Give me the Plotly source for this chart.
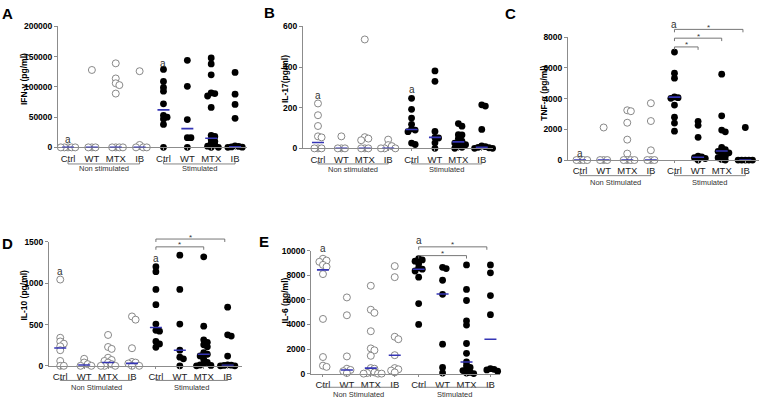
import plotly.graph_objects as go

W, H = 759, 403
FONT = "Liberation Sans"

categories = ["Ctrl", "WT", "MTX", "IB", "Ctrl", "WT", "MTX", "IB"]

# ---------------- Panel A : IFN-gamma (pg/ml) ----------------
ifng_nonstim = [
    [0, 0, 0, 0, 0],
    [128000, 0, 0, 0],
    [139000, 114000, 106000, 103000, 89000, 0, 0, 0, 0],
    [126000, 4000, 0, 0, 0],
]
ifng_stim = [
    [129000, 109000, 99000, 93000, 72000, 53000, 50000, 47000, 38000, 0],
    [144000, 101000, 46000, 16000, 16000, 0],
    [148000, 138000, 120000, 90000, 89000, 85000, 66000, 20000, 18000, 13000,
     10000, 7000, 4000, 2000, 0, 0],
    [124000, 88000, 71000, 48000, 2500, 1500, 800, 300, 0],
]
ifng_medians = [0, 0, 0, 0, 62000, 31000, 15000, 1000]

# ---------------- Panel B : IL-17 (pg/ml) ----------------
il17_nonstim = [
    [221, 163, 110, 59, 54, 0, 0, 0],
    [59, 0, 0, 0],
    [536, 55, 48, 40, 0, 0, 0],
    [43, 16, 11, 0, 0, 0],
]
il17_stim = [
    [246, 192, 149, 118, 96, 90, 82, 26, 19],
    [381, 330, 83, 54, 51, 27, 0],
    [122, 109, 67, 66, 48, 35, 30, 26, 18, 10, 5, 0],
    [214, 208, 93, 12, 8, 5, 3, 0, 0],
]
il17_medians = [29, 0, 0, 0, 93, 54, 32, 5]

# ---------------- Panel C : TNF-alpha (pg/ml) ----------------
tnfa_nonstim = [
    [0, 0, 0, 0],
    [2120, 0, 0, 0],
    [3240, 3180, 2430, 1330, 420, 0, 0, 0, 0],
    [3700, 2540, 635, 0, 0, 0],
]
tnfa_stim = [
    [7030, 5650, 5330, 4110, 4060, 4020, 3580, 2790, 2410, 1880],
    [2520, 2260, 1480, 250, 200, 150, 100, 0],
    [5590, 2880, 1950, 1840, 830, 680, 600, 570, 470, 360, 250, 150, 40, 0],
    [2120, 0, 0, 0, 0, 0],
]
tnfa_medians = [0, 0, 0, 0, 4100, 180, 590, 0]

# ---------------- Panel D : IL-10 (pg/ml) ----------------
il10_nonstim = [
    [1045, 340, 295, 268, 236, 189, 59, 0, 0],
    [85, 40, 20, 0, 0],
    [374, 228, 205, 98, 71, 59, 39, 20, 0, 0, 0],
    [598, 559, 213, 47, 39, 28, 0, 0],
]
il10_stim = [
    [1200, 1140, 925, 740, 505, 430, 420, 295, 265, 225],
    [1340, 925, 505, 190, 105, 85, 0],
    [1320, 480, 315, 285, 255, 230, 160, 140, 120, 80, 40, 30, 10, 5, 0],
    [710, 375, 360, 118, 12, 8, 5, 0, 0],
]
il10_medians = [215, 8, 40, 30, 465, 189, 140, 5]

# ---------------- Panel E : IL-6 (pg/ml) ----------------
il6_nonstim = [
    [9350, 9200, 9100, 8850, 8700, 8100, 4450, 1350, 650, 550],
    [6200, 4750, 1400, 400, 300, 200, 50],
    [7150, 5200, 4950, 3450, 2050, 1900, 1450, 450, 400, 150, 100, 50, 0, 0, 0],
    [8750, 7850, 3000, 2800, 1500, 450, 350, 250, 100],
]
il6_stim = [
    [9350, 9250, 9150, 8950, 8600, 8500, 8350, 7850, 5700, 4000],
    [8650, 8550, 7600, 6450, 2400, 500, 50],
    [8850, 6850, 5950, 4300, 3950, 2450, 1650, 950, 650, 500, 350, 250, 100, 50, 0],
    [8850, 8200, 6350, 4800, 400, 350, 300, 200],
]
il6_medians = [8440, 300, 450, 1500, 8500, 6480, 950, 2800]

# ---------------- layout spec (pixels) ----------------
PANELS = [
    dict(letter="A", ns=ifng_nonstim, st=ifng_stim, med=ifng_medians,
         ytitle="IFN-γ (pg/ml)", ymax=200000, dtick=50000,
         box=(58, 247, 22, 146), xrange=(-0.42, 7.5),
         letter_xy=(7, 9), ytitle_xy=(24, 76), ns_label="Non stimulated",
         group_px=(163, 168), a_px=(138, 60), brackets=[]),
    dict(letter="B", ns=il17_nonstim, st=il17_stim, med=il17_medians,
         ytitle="IL-17(pg/ml)", ymax=600, dtick=200,
         box=(303, 493, 22, 147), xrange=(-0.64, 7.48),
         letter_xy=(269, 8), ytitle_xy=(285, 76), ns_label="Non stimulated",
         group_px=(163, 169), a_px=(93, 87), brackets=[]),
    dict(letter="C", ns=tnfa_nonstim, st=tnfa_stim, med=tnfa_medians,
         ytitle="TNF-α (pg/ml)", ymax=8000, dtick=2000,
         box=(568, 759, 33, 159), xrange=(-0.51, 7.58),
         letter_xy=(510, 9), ytitle_xy=(544, 91), ns_label="Non Stimulated",
         group_px=(175, 182), a_px=(152, 20),
         brackets=[(4, 6.9, 25), (4, 6, 34), (4, 5, 43)]),
    dict(letter="D", ns=il10_nonstim, st=il10_stim, med=il10_medians,
         ytitle="IL-10 (pg/ml)", ymax=1500, dtick=500,
         box=(49, 242, 243, 370), xrange=(-0.47, 7.6),
         letter_xy=(7, 245), ytitle_xy=(24, 298), ns_label="Non Stimulated",
         group_px=(385, 392), a_px=(273, 260),
         brackets=[(4, 6.88, 240), (4, 6, 248)]),
    dict(letter="E", ns=il6_nonstim, st=il6_stim, med=il6_medians,
         ytitle="IL-6 (pg/ml)", ymax=10000, dtick=2000,
         box=(311, 500, 252, 378), xrange=(-0.5, 7.4),
         letter_xy=(264, 243), ytitle_xy=(285, 303), ns_label="Non Stimulated",
         group_px=(392, 399), a_px=(250, 241),
         brackets=[(4, 6.85, 248), (4, 6, 257)]),
]

MEDIAN_COLOR = "#3535b5"
AXIS_COLOR = "#8c8c8c"


def swarm(vals, ypu, xpu, d=3.6, step=3.6):
    """Deterministic beeswarm offsets (in x data units)."""
    placed = []
    res = [0.0] * len(vals)
    order = sorted(range(len(vals)), key=lambda i: -vals[i])
    for i in order:
        y = vals[i] * ypu
        k = 0
        while True:
            cand = 0.0 if k == 0 else ((k + 1) // 2) * step * (1 if k % 2 else -1)
            if all((cand - px) ** 2 + (y - py) ** 2 >= d * d for px, py in placed):
                break
            k += 1
        placed.append((cand, y))
        res[i] = cand / xpu
    return res


fig = go.Figure()
shapes, annos = [], []
layout_axes = {}

for n, p in enumerate(PANELS, start=1):
    xa = "x" if n == 1 else f"x{n}"
    ya = "y" if n == 1 else f"y{n}"
    xl, xr, yt, y0 = p["box"]
    xpu = (xr - xl) / (p["xrange"][1] - p["xrange"][0])
    ypu = (y0 - yt) / p["ymax"]

    def dom(ypx, y0=y0, yt=yt):
        return (y0 - ypx) / (y0 - yt)

    groups = p["ns"] + p["st"]
    for g, vals in enumerate(groups):
        offs = swarm(vals, ypu, xpu)
        stim = g >= 4
        fig.add_trace(go.Scatter(
            x=[g + o for o in offs], y=vals, mode="markers",
            xaxis=xa, yaxis=ya, cliponaxis=False, showlegend=False,
            marker=dict(size=6.8 if stim else 7,
                        color="black" if stim else "white",
                        line=dict(width=0 if stim else 0.9, color="#7a7a7a")),
        ))
        hw = 6 / xpu
        shapes.append(dict(type="line", xref=xa, yref=ya,
                           x0=g - hw, x1=g + hw, y0=p["med"][g], y1=p["med"][g],
                           line=dict(color=MEDIAN_COLOR, width=1.6)))

    # group brackets under axis
    gl, gt = p["group_px"]
    for (a, b, label) in [(0, 3, p["ns_label"]), (4, 7, "Stimulated")]:
        shapes.append(dict(type="path", xref=xa, yref=f"{ya} domain",
                           path=f"M {a},{dom(gl - 3)} L {a},{dom(gl)} L {b},{dom(gl)} L {b},{dom(gl - 3)}",
                           line=dict(color="#777777", width=0.9)))
        annos.append(dict(text=label, xref=xa, yref=f"{ya} domain", x=(a + b) / 2,
                          y=dom(gt), showarrow=False, xanchor="center", yanchor="middle",
                          font=dict(family=FONT, size=7.5, color="#333333")))

    # significance letters
    for xi, apx in zip((0, 4), p["a_px"]):
        annos.append(dict(text="a", xref=xa, yref=f"{ya} domain", x=xi, y=dom(apx),
                          showarrow=False, xanchor="center", yanchor="middle",
                          font=dict(family=FONT, size=10, color="#333333")))

    # comparison brackets
    for (a, b, bpx) in p["brackets"]:
        shapes.append(dict(type="path", xref=xa, yref=f"{ya} domain",
                           path=f"M {a},{dom(bpx + 3)} L {a},{dom(bpx)} L {b},{dom(bpx)} L {b},{dom(bpx + 3)}",
                           line=dict(color="#666666", width=0.9)))
        annos.append(dict(text="*", xref=xa, yref=f"{ya} domain", x=(a + b) / 2,
                          y=dom(bpx - 2), showarrow=False, xanchor="center", yanchor="middle",
                          font=dict(family=FONT, size=8, color="#333333")))

    # panel letter
    lx, ly = p["letter_xy"]
    annos.append(dict(text=f"<b>{p['letter']}</b>", xref="paper", yref="paper",
                      x=lx / W, y=1 - ly / H, showarrow=False,
                      xanchor="center", yanchor="middle",
                      font=dict(family=FONT, size=15, color="black")))
    # y title
    tx, ty = p["ytitle_xy"]
    annos.append(dict(text=f"<b>{p['ytitle']}</b>", xref="paper", yref="paper",
                      x=tx / W, y=1 - ty / H, showarrow=False, textangle=-90,
                      xanchor="center", yanchor="middle",
                      font=dict(family=FONT, size=8.5, color="black")))

    layout_axes["xaxis" if n == 1 else f"xaxis{n}"] = dict(
        domain=[xl / W, xr / W], anchor=ya, range=list(p["xrange"]),
        tickmode="array", tickvals=list(range(8)), ticktext=categories,
        showline=True, linecolor=AXIS_COLOR, linewidth=1,
        ticks="outside", ticklen=2, tickcolor=AXIS_COLOR,
        showgrid=False, zeroline=False, fixedrange=True,
        tickfont=dict(family=FONT, size=9.5, color="#222222"))
    layout_axes["yaxis" if n == 1 else f"yaxis{n}"] = dict(
        domain=[1 - y0 / H, 1 - yt / H], anchor=xa, range=[0, p["ymax"]],
        tick0=0, dtick=p["dtick"], tickformat="d",
        showline=True, linecolor=AXIS_COLOR, linewidth=1,
        ticks="outside", ticklen=3, tickcolor=AXIS_COLOR,
        showgrid=False, zeroline=False, fixedrange=True,
        tickfont=dict(family=FONT, size=8.5, color="black", weight="bold"))

fig.update_layout(
    width=W, height=H, margin=dict(l=0, r=0, t=0, b=0),
    paper_bgcolor="white", plot_bgcolor="white",
    shapes=shapes, annotations=annos, showlegend=False,
    **layout_axes,
)

fig.write_html("out.html", config={"displayModeBar": False},
               post_script="document.body.style.margin='0';document.body.style.overflow='hidden';")
